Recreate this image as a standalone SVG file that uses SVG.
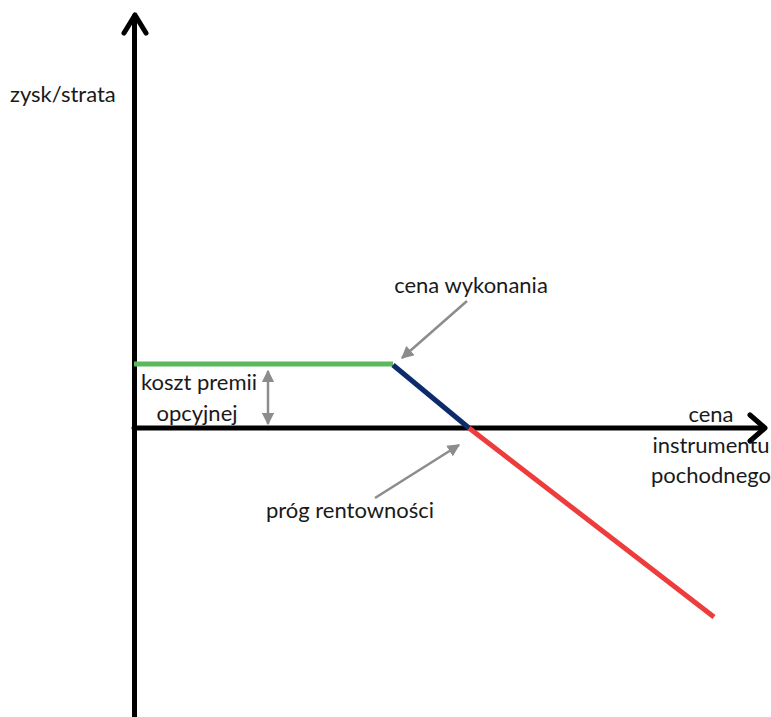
<svg xmlns="http://www.w3.org/2000/svg" width="771" height="717" viewBox="0 0 771 717">
  <style>
    .axis { stroke: #000; stroke-width: 5; fill: none; stroke-linecap: round; stroke-linejoin: round; }
    .pointer { stroke: #8c8c8c; stroke-width: 2.5; fill: none; }
    .lbl { font-family: Lato, "Liberation Sans", sans-serif; font-size: 22px; fill: #1a1a1a; }
  </style>
  <defs>
    <marker id="grey-head" viewBox="0 0 10 10" refX="9" refY="5" markerWidth="5" markerHeight="5" orient="auto-start-reverse" markerUnits="strokeWidth">
      <path d="M0,0 L10,5 L0,10 Z" fill="#8c8c8c"/>
    </marker>
  </defs>
  <rect width="771" height="717" fill="#fff"/>

  <g id="axes">
    <line class="axis" x1="134.5" y1="16" x2="134.5" y2="720"/>
    <polyline class="axis" points="124,33 135,15 146,33"/>
    <line class="axis" x1="134" y1="428" x2="764" y2="428"/>
    <polyline class="axis" points="750,415 765,428 750,441"/>
  </g>

  <g id="payoff">
    <line x1="134" y1="364" x2="393" y2="364" stroke="#5cb85c" stroke-width="5"/>
    <line x1="393" y1="365" x2="469" y2="428" stroke="#0d2a6b" stroke-width="5"/>
    <line x1="469" y1="428" x2="714" y2="617" stroke="#ee3b3b" stroke-width="5"/>
  </g>

  <g id="connectors">
    <line class="pointer" x1="268" y1="371" x2="268" y2="424" marker-start="url(#grey-head)" marker-end="url(#grey-head)"/>
    <line class="pointer" x1="467" y1="301" x2="402" y2="358" marker-end="url(#grey-head)"/>
    <line class="pointer" x1="375" y1="498" x2="459" y2="445" marker-end="url(#grey-head)"/>
  </g>

  <g id="label-y-axis">
    <text class="lbl" x="10" y="102">zysk/strata</text>
  </g>
  <g id="label-x-axis">
    <text class="lbl" x="711" y="422" text-anchor="middle">cena</text>
    <text class="lbl" x="711" y="453" text-anchor="middle">instrumentu</text>
    <text class="lbl" x="711" y="483" text-anchor="middle">pochodnego</text>
  </g>
  <g id="label-strike">
    <text class="lbl" x="471" y="293" text-anchor="middle">cena wykonania</text>
  </g>
  <g id="label-premium">
    <text class="lbl" x="199" y="390" text-anchor="middle">koszt premii</text>
    <text class="lbl" x="197" y="421" text-anchor="middle">opcyjnej</text>
  </g>
  <g id="label-breakeven">
    <text class="lbl" x="350" y="518" text-anchor="middle">próg rentowności</text>
  </g>
</svg>
